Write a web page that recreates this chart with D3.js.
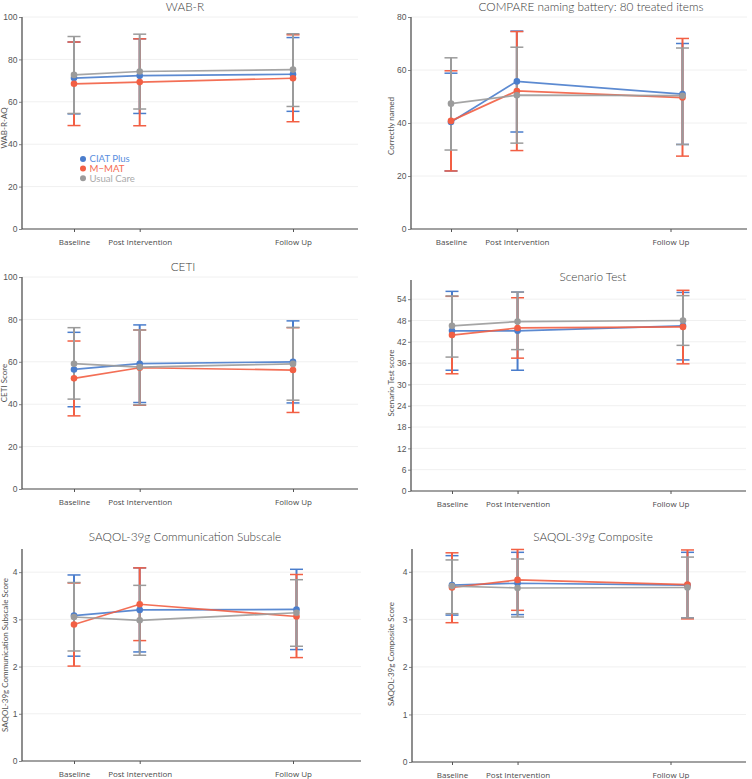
<!DOCTYPE html>
<html><head><meta charset="utf-8">
<script src="https://cdn.jsdelivr.net/npm/d3@7"></script>
<style>body{margin:0;background:#fff} svg{display:block}</style>
</head><body><svg id="c" width="752" height="779"></svg>
<script>
// ---------- data ----------
const categories = ["Baseline", "Post Intervention", "Follow Up"];
const weeks = [0, 12, 40];
const seriesNames = ["CIAT Plus", "M\u2212MAT", "Usual Care"];
const seriesColors = ["#4a7dcc", "#f25f44", "#9b9b9b"];
const legendColors = ["#5b8fe0", "#f56b52", "#aaaaaa"];

// WAB-R (series order: CIAT Plus, M-MAT, Usual Care)
const wabMean = [[71.2, 72.3, 73.0], [68.5, 69.3, 71.1], [72.7, 74.3, 75.2]];
const wabLo   = [[54.3, 54.5, 55.5], [48.8, 48.7, 50.6], [54.5, 56.6, 57.8]];
const wabHi   = [[88.2, 89.7, 90.3], [88.2, 89.7, 91.6], [90.8, 91.9, 92.1]];
const wabTicks = [0, 20, 40, 60, 80, 100];

// COMPARE naming battery
const cmpMean = [[40.4, 55.7, 50.9], [40.8, 52.1, 49.6], [47.3, 50.5, 50.3]];
const cmpLo   = [[21.9, 36.6, 31.9], [21.9, 29.6, 27.5], [29.8, 32.4, 31.9]];
const cmpHi   = [[58.8, 74.7, 70.0], [59.7, 74.5, 71.9], [64.6, 68.6, 68.3]];
const cmpTicks = [0, 20, 40, 60, 80];

// CETI
const cetiMean = [[56.4, 59.1, 60.0], [52.2, 57.2, 56.1], [59.1, 57.5, 59.0]];
const cetiLo   = [[38.8, 40.8, 40.6], [34.5, 39.5, 36.1], [42.4, 39.7, 41.9]];
const cetiHi   = [[73.9, 77.4, 79.3], [69.8, 75.0, 76.1], [76.1, 75.0, 76.2]];
const cetiTicks = [0, 20, 40, 60, 80, 100];

// Scenario Test
const scnMean = [[45.1, 45.1, 46.5], [43.9, 45.9, 46.2], [46.5, 47.7, 48.0]];
const scnLo   = [[34.0, 34.0, 36.9], [33.0, 37.4, 35.8], [37.7, 39.8, 41.0]];
const scnHi   = [[56.2, 56.0, 55.9], [54.8, 54.4, 56.5], [54.9, 56.0, 55.0]];
const scnTicks = [0, 6, 12, 18, 24, 30, 36, 42, 48, 54];

// SAQOL-39g Communication Subscale
const comMean = [[3.08, 3.20, 3.21], [2.89, 3.32, 3.06], [3.05, 2.98, 3.14]];
const comLo   = [[2.22, 2.31, 2.36], [2.01, 2.55, 2.19], [2.33, 2.24, 2.43]];
const comHi   = [[3.94, 4.09, 4.06], [3.77, 4.09, 3.95], [3.78, 3.72, 3.84]];
const comTicks = [0, 1, 2, 3, 4];

// SAQOL-39g Composite
const sqMean = [[3.72, 3.76, 3.72], [3.67, 3.83, 3.73], [3.70, 3.66, 3.67]];
const sqLo   = [[3.09, 3.10, 3.03], [2.93, 3.19, 3.01], [3.12, 3.05, 3.03]];
const sqHi   = [[4.34, 4.41, 4.41], [4.40, 4.47, 4.46], [4.25, 4.27, 4.31]];
const sqTicks = [0, 1, 2, 3, 4];

// ---------- layout ----------
const panels = [
  {title: "WAB-R", ytitle: "WAB-R-AQ", mean: wabMean, lo: wabLo, hi: wabHi, ticks: wabTicks, ymax: 100,
   ax: 22, right: 358, top: 17, bot: 229, bx: 74, fx: 293, shift: 0, tx: 185, ty: 11, ytx: 7, yty: 128, legend: true},
  {title: "COMPARE naming battery: 80 treated items", ytitle: "Correctly named", mean: cmpMean, lo: cmpLo, hi: cmpHi, ticks: cmpTicks, ymax: 80,
   ax: 411, right: 747, top: 17, bot: 229, bx: 451, fx: 670.5, shift: 12, tx: 591, ty: 11, ytx: 394, yty: 126},
  {title: "CETI", ytitle: "CETI Score", mean: cetiMean, lo: cetiLo, hi: cetiHi, ticks: cetiTicks, ymax: 100,
   ax: 22, right: 358, top: 277, bot: 489, bx: 74, fx: 293, shift: 0, tx: 183, ty: 271, ytx: 7, yty: 383},
  {title: "Scenario Test", ytitle: "Scenario Test score", mean: scnMean, lo: scnLo, hi: scnHi, ticks: scnTicks, ymax: 59.4,
   ax: 411, right: 746, top: 280, bot: 491, bx: 452, fx: 670.5, shift: 12.5, tx: 593, ty: 281, ytx: 394, yty: 383},
  {title: "SAQOL-39g Communication Subscale", ytitle: "SAQOL-39g Communication Subscale Score", mean: comMean, lo: comLo, hi: comHi, ticks: comTicks, ymax: 4.49,
   ax: 22, right: 361, top: 549, bot: 761, bx: 74, fx: 293, shift: 3.5, tx: 185, ty: 541, ytx: 8, yty: 655},
  {title: "SAQOL-39g Composite", ytitle: "SAQOL-39g Composite Score", mean: sqMean, lo: sqLo, hi: sqHi, ticks: sqTicks, ymax: 4.48,
   ax: 412, right: 746, top: 549, bot: 762, bx: 452, fx: 670.5, shift: 17, tx: 593, ty: 541, ytx: 394, yty: 654}
];

const FONT = "Lato, 'Open Sans', sans-serif";
const svg = d3.select("#c");

panels.forEach(p => {
  const g = svg.append("g");
  const y = d3.scaleLinear().domain([0, p.ymax]).range([p.bot, p.top]);
  const x = d3.scaleLinear().domain([weeks[0], weeks[2]]).range([p.bx, p.fx]);
  // data x (follow-up points are slightly offset in the original)
  const xd = i => x(weeks[i]) + (i === 2 ? p.shift : 0);

  // gridlines
  g.selectAll(".grid").data(p.ticks.filter(t => t > 0)).enter().append("line")
    .attr("x1", p.ax).attr("x2", p.right).attr("y1", d => y(d)).attr("y2", d => y(d))
    .attr("stroke", "#f0f0f0").attr("stroke-width", 1);

  // y axis
  const yAxis = d3.axisLeft(y).tickValues(p.ticks).tickSize(3).tickPadding(1.5).tickFormat(d3.format("d"));
  const ya = g.append("g").attr("transform", `translate(${p.ax},0)`).call(yAxis);
  ya.select(".domain").attr("stroke", "#444").attr("stroke-width", 1.2).attr("d", `M0,${p.top}V${p.bot}`);
  ya.selectAll(".tick line").attr("stroke", "#666").attr("stroke-width", 0.8);
  ya.selectAll(".tick text").attr("fill", "#555").style("font-family", "'Liberation Sans', Arial, sans-serif").style("font-size", "8.5px");

  // x axis
  const xAxis = d3.axisBottom(x).tickValues(weeks).tickSize(3).tickPadding(7)
    .tickFormat((d, i) => categories[i]);
  const xa = g.append("g").attr("transform", `translate(0,${p.bot})`).call(xAxis);
  xa.select(".domain").attr("stroke", "#444").attr("stroke-width", 1.2).attr("d", `M${p.ax},0H${p.right}`);
  xa.selectAll(".tick line").attr("stroke", "#555").attr("stroke-width", 1);
  xa.selectAll(".tick text").attr("fill", "#4a4a4a").style("font-family", "'Open Sans', Lato, sans-serif").style("font-size", "8px");

  // title
  g.append("text").attr("x", p.tx).attr("y", p.ty).attr("text-anchor", "middle")
    .attr("fill", "#3a3a3a").style("font-family", FONT).style("font-weight", 300).style("font-size", "11.8px").text(p.title);

  // y title
  g.append("text").attr("transform", `translate(${p.ytx},${p.yty}) rotate(-90)`).attr("text-anchor", "middle")
    .attr("fill", "#555").style("font-family", FONT).style("font-size", "8px").text(p.ytitle);

  // error bars
  seriesNames.forEach((s, si) => {
    const eb = g.append("g").attr("stroke", seriesColors[si]);
    categories.forEach((c, i) => {
      const cx = xd(i);
      eb.append("line").attr("x1", cx).attr("x2", cx).attr("y1", y(p.lo[si][i])).attr("y2", y(p.hi[si][i]))
        .attr("stroke-width", 2);
      [p.lo[si][i], p.hi[si][i]].forEach(v => {
        eb.append("line").attr("x1", cx - 6.5).attr("x2", cx + 6.5).attr("y1", y(v)).attr("y2", y(v))
          .attr("stroke-width", 1.5);
      });
    });
  });

  // lines
  const line = d3.line().x((d, i) => xd(i)).y(d => y(d));
  seriesNames.forEach((s, si) => {
    g.append("path").datum(p.mean[si]).attr("d", line).attr("fill", "none")
      .attr("stroke", seriesColors[si]).attr("stroke-width", 1.7).attr("stroke-opacity", 0.9);
  });
  // markers
  seriesNames.forEach((s, si) => {
    g.selectAll(null).data(p.mean[si]).enter().append("circle")
      .attr("cx", (d, i) => xd(i)).attr("cy", d => y(d)).attr("r", 3.3).attr("fill", seriesColors[si]);
  });

  // legend
  if (p.legend) {
    const lg = g.append("g").attr("transform", "translate(83,159)");
    seriesNames.forEach((s, si) => {
      lg.append("circle").attr("cx", 0).attr("cy", si * 9.6).attr("r", 3).attr("fill", seriesColors[si]);
      lg.append("text").attr("x", 6.5).attr("y", si * 9.6).attr("dy", "0.35em")
        .attr("fill", legendColors[si]).style("font-family", FONT).style("font-size", "9.6px").text(s);
    });
  }
});
</script></body></html>
